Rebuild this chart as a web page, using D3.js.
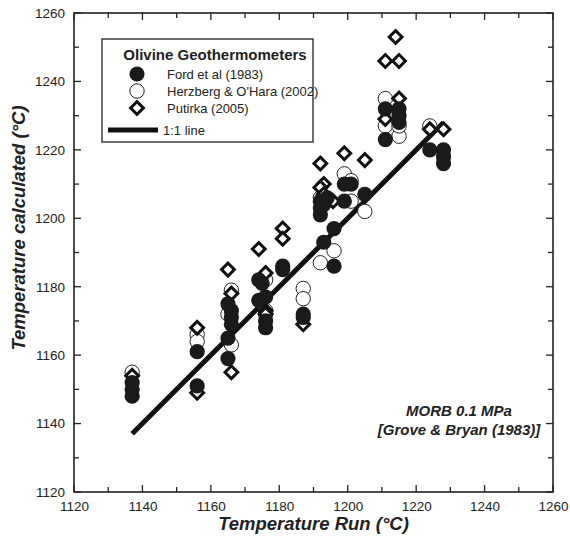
<!DOCTYPE html>
<html>
<head>
<meta charset="utf-8">
<script src="https://cdn.jsdelivr.net/npm/d3@7"></script>
<style>
  body { margin: 0; background: #fff; }
  svg text { font-family: "Liberation Sans", Arial, Helvetica, sans-serif; fill: #222; }
</style>
</head>
<body>
<div id="chart"></div>
<script>
"use strict";

// [Temperature Run, Temperature calculated] pairs
let fordPts = [
  [1137, 1148], [1137, 1150], [1137, 1152],
  [1156, 1161], [1156, 1151],
  [1165, 1175], [1166, 1173], [1166, 1171], [1166, 1169], [1165, 1165], [1165, 1159],
  [1174, 1182], [1175, 1181], [1174, 1176], [1176, 1177], [1176, 1170], [1176, 1168],
  [1181, 1186], [1181, 1185],
  [1187, 1172], [1187, 1171],
  [1192, 1201], [1192, 1203], [1193, 1204], [1194, 1206], [1192, 1205],
  [1196, 1197], [1193, 1193], [1196, 1186],
  [1199, 1210], [1201, 1210], [1199, 1205], [1205, 1207],
  [1211, 1232], [1215, 1232], [1215, 1230], [1215, 1228], [1211, 1223],
  [1224, 1220], [1228, 1220], [1228, 1218], [1228, 1216]
];

let herzbergPts = [
  [1137, 1155],
  [1156, 1166], [1156, 1164],
  [1166, 1179], [1166, 1163], [1165, 1172],
  [1176, 1182], [1176, 1173], [1176, 1172],
  [1187, 1179.5], [1187, 1176.5],
  [1192, 1206], [1196, 1190.5], [1192, 1187],
  [1199, 1213], [1201, 1205], [1205, 1202], [1201, 1211],
  [1211, 1235], [1211, 1227], [1215, 1224], [1215, 1227],
  [1224, 1227]
];

let putirkaPts = [
  [1137, 1154],
  [1156, 1168], [1156, 1149],
  [1165, 1185], [1166, 1178], [1166, 1155],
  [1174, 1191], [1176, 1184], [1176, 1173], [1176, 1172],
  [1181, 1197], [1181, 1194],
  [1187, 1169],
  [1192, 1216], [1193, 1210], [1192, 1209], [1193, 1207], [1195.7, 1205],
  [1199, 1219], [1205, 1217],
  [1214, 1253], [1211, 1246], [1215, 1246], [1215, 1235], [1211, 1229],
  [1224, 1226], [1228, 1226]
];

let oneToOne = [1137, 1228];

let tickValues = d3.range(1120, 1261, 10);

let legendItems = ["Ford et al (1983)", "Herzberg & O'Hara (2002)", "Putirka (2005)", "1:1 line"];

let width = 570, height = 542;
let margins = { top: 13, left: 74, right: 17, bottom: 50 };

let svg = d3.select("#chart").append("svg")
  .attr("width", width)
  .attr("height", height);

let x = d3.scaleLinear()
  .domain([1120, 1260])
  .range([margins.left, width - margins.right]);

let y = d3.scaleLinear()
  .domain([1120, 1260])
  .range([height - margins.bottom, margins.top]);

let diamond = d3.symbol().type(d3.symbolSquare).size(82);

drawAxes();
drawData();
drawLegend();
drawNotes();

function tickLen(d) {
  return d % 20 === 0 ? 7 : 5;
}

function drawAxes() {
  let fmt = (d) => (d % 20 === 0 ? d : "");

  // labelled axes, ticks drawn separately (inward, all four sides)
  let bottom = svg.append("g")
    .attr("transform", "translate(0," + y.range()[0] + ")")
    .call(d3.axisBottom(x).tickValues(tickValues).tickFormat(fmt).tickSizeInner(0).tickSizeOuter(0).tickPadding(9));

  let left = svg.append("g")
    .attr("transform", "translate(" + x.range()[0] + ",0)")
    .call(d3.axisLeft(y).tickValues(tickValues).tickFormat(fmt).tickSizeInner(0).tickSizeOuter(0).tickPadding(9));

  [bottom, left].forEach(g => {
    g.select(".domain").remove();
    g.selectAll("text").style("font-size", "13.5px").style("fill", "#222");
  });

  let tg = svg.append("g").attr("stroke", "#222").attr("stroke-width", 1.3);
  let x0 = x.range()[0], x1 = x.range()[1], y0 = y.range()[0], y1 = y.range()[1];

  tickValues.forEach(d => {
    let l = tickLen(d);
    tg.append("line").attr("x1", x(d)).attr("x2", x(d)).attr("y1", y0).attr("y2", y0 - l);
    tg.append("line").attr("x1", x(d)).attr("x2", x(d)).attr("y1", y1).attr("y2", y1 + l);
    tg.append("line").attr("y1", y(d)).attr("y2", y(d)).attr("x1", x0).attr("x2", x0 + l);
    tg.append("line").attr("y1", y(d)).attr("y2", y(d)).attr("x1", x1).attr("x2", x1 - l);
  });

  svg.append("rect")
    .attr("x", x0).attr("y", y1)
    .attr("width", x1 - x0).attr("height", y0 - y1)
    .attr("fill", "none")
    .attr("stroke", "#222")
    .attr("stroke-width", 1.6);

  svg.append("text")
    .attr("x", (x0 + x1) / 2)
    .attr("y", 530)
    .attr("text-anchor", "middle")
    .style("font-size", "18.5px")
    .style("font-weight", "bold")
    .style("font-style", "italic")
    .text("Temperature Run (°C)");

  svg.append("text")
    .attr("transform", "translate(25,228) rotate(-90)")
    .attr("text-anchor", "middle")
    .style("font-size", "18.5px")
    .style("font-weight", "bold")
    .style("font-style", "italic")
    .text("Temperature calculated (°C)");
}

function drawData() {
  svg.append("line")
    .attr("x1", x(oneToOne[0])).attr("y1", y(oneToOne[0]))
    .attr("x2", x(oneToOne[1])).attr("y2", y(oneToOne[1]))
    .attr("stroke", "#111")
    .attr("stroke-width", 5);

  svg.append("g").selectAll("circle")
    .data(herzbergPts)
    .enter().append("circle")
    .attr("cx", d => x(d[0]))
    .attr("cy", d => y(d[1]))
    .attr("r", 7.2)
    .attr("fill", "#fff")
    .attr("stroke", "#222")
    .attr("stroke-width", 1);

  svg.append("g").selectAll("path")
    .data(putirkaPts)
    .enter().append("path")
    .attr("d", diamond)
    .attr("transform", d => "translate(" + x(d[0]) + "," + y(d[1]) + ") rotate(45)")
    .attr("fill", "#fff")
    .attr("stroke", "#111")
    .attr("stroke-width", 3);

  svg.append("g").selectAll("circle")
    .data(fordPts)
    .enter().append("circle")
    .attr("cx", d => x(d[0]))
    .attr("cy", d => y(d[1]))
    .attr("r", 7.6)
    .attr("fill", "#1a1a1a");
}

function drawLegend() {
  let g = svg.append("g");

  g.append("rect")
    .attr("x", 102).attr("y", 39)
    .attr("width", 211).attr("height", 103)
    .attr("fill", "#fff")
    .attr("stroke", "#222")
    .attr("stroke-width", 1.3);

  g.append("text")
    .attr("x", 215).attr("y", 60)
    .attr("text-anchor", "middle")
    .style("font-size", "15px")
    .style("font-weight", "bold")
    .text("Olivine Geothermometers");

  let rowY = [74, 91, 108, 130];
  let mx = 137;

  g.append("circle").attr("cx", mx).attr("cy", rowY[0]).attr("r", 7.6).attr("fill", "#1a1a1a");
  g.append("circle").attr("cx", mx).attr("cy", rowY[1]).attr("r", 7.2)
    .attr("fill", "#fff").attr("stroke", "#222").attr("stroke-width", 1);
  g.append("path").attr("d", diamond)
    .attr("transform", "translate(" + mx + "," + rowY[2] + ") rotate(45)")
    .attr("fill", "#fff").attr("stroke", "#111").attr("stroke-width", 3);
  g.append("line").attr("x1", 108).attr("x2", 158).attr("y1", rowY[3]).attr("y2", rowY[3])
    .attr("stroke", "#111").attr("stroke-width", 5);

  legendItems.forEach((t, i) => {
    g.append("text")
      .attr("x", i === 3 ? 163 : 167)
      .attr("y", rowY[i] + 5)
      .style("font-size", "13px")
      .text(t);
  });
}

function drawNotes() {
  let notes = ["MORB 0.1 MPa", "[Grove & Bryan (1983)]"];
  svg.append("g").selectAll("text")
    .data(notes)
    .enter().append("text")
    .attr("x", 459)
    .attr("y", (d, i) => 416 + i * 19)
    .attr("text-anchor", "middle")
    .style("font-size", "15px")
    .style("font-weight", "bold")
    .style("font-style", "italic")
    .text(d => d);
}
</script>
</body>
</html>
